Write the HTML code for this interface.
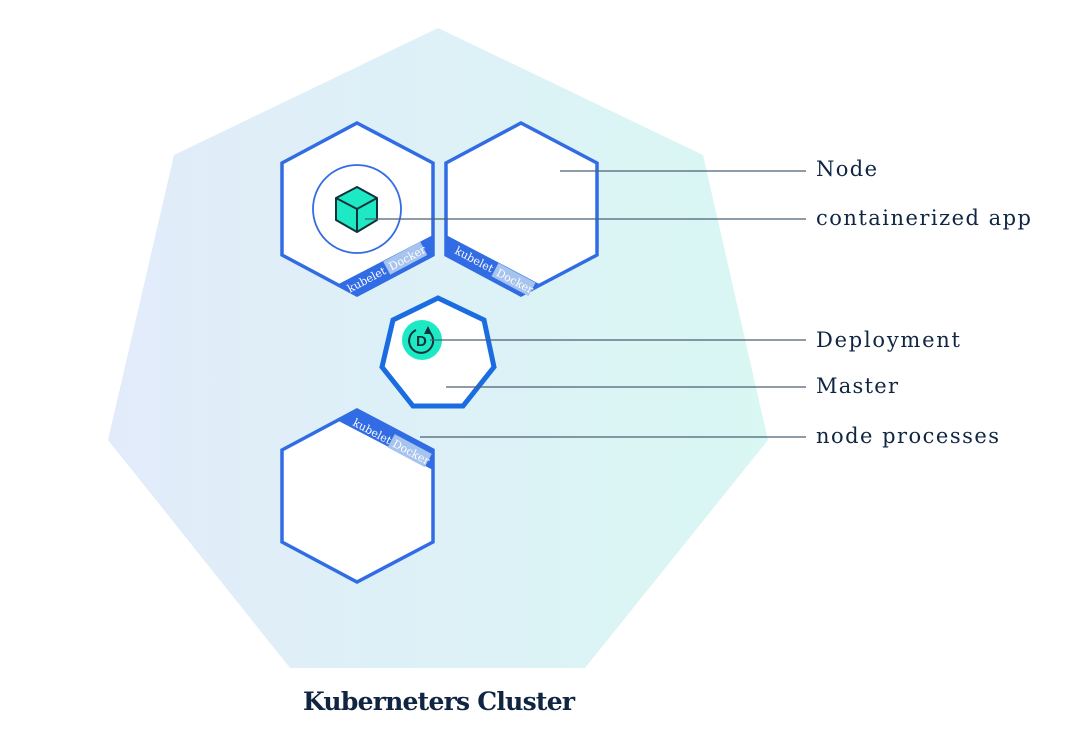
<!DOCTYPE html>
<html><head><meta charset="utf-8"><style>
html,body{margin:0;padding:0;background:#fff;}
svg{display:block;}
text{font-family:"DejaVu Serif","Liberation Serif",serif;fill:#0f2541;}
</style></head><body>
<svg width="1080" height="740" viewBox="0 0 1080 740" xmlns="http://www.w3.org/2000/svg">
<defs>
<linearGradient id="bg" x1="0" x2="1" y1="0" y2="0">
<stop offset="0" stop-color="#e2ebfa"/><stop offset="1" stop-color="#d9f7f3"/>
</linearGradient>
<clipPath id="h1"><polygon points="357,123 433,163 433,255 357,295 282,255 282,163"/></clipPath>
<clipPath id="h2"><polygon points="521,123 597,163 597,255 521,295 446,255 446,163"/></clipPath>
<clipPath id="h3"><polygon points="357,410 433,450 433,542 357,582 282,542 282,450"/></clipPath>
</defs>
<polygon points="438,28 703,155 768,440 585,668 290,668 108,440 174,155" fill="url(#bg)"/>

<!-- hex 1 -->
<polygon points="357,123 433,163 433,255 357,295 282,255 282,163" fill="#fff"/>
<line x1="445" y1="249" x2="345" y2="301" stroke="#326ce5" stroke-width="36" clip-path="url(#h1)"/>
<polygon points="357,123 433,163 433,255 357,295 282,255 282,163" fill="none" stroke="#326ce5" stroke-width="3.5"/>
<g transform="translate(357,289) rotate(-28)">
<text x="-8" y="0" font-size="11" style="fill:#fff">kubelet</text>
<rect x="36" y="-12" width="42" height="15" fill="#a6c4ee"/>
<text x="39" y="0" font-size="11" style="fill:#fff">Docker</text>
</g>
<circle cx="357" cy="209" r="44" fill="none" stroke="#326ce5" stroke-width="1.8"/>
<polygon points="357,187 377,198 377,220 357,232 336,220 336,198" fill="#1de9c4" stroke="#10323a" stroke-width="2" stroke-linejoin="round"/>
<polyline points="336,198 357,209 377,198" fill="none" stroke="#10323a" stroke-width="2"/>
<line x1="357" y1="209" x2="357" y2="232" stroke="#10323a" stroke-width="2"/>

<!-- hex 2 -->
<polygon points="521,123 597,163 597,255 521,295 446,255 446,163" fill="#fff"/>
<line x1="434" y1="249" x2="533" y2="301" stroke="#326ce5" stroke-width="36" clip-path="url(#h2)"/>
<polygon points="521,123 597,163 597,255 521,295 446,255 446,163" fill="none" stroke="#326ce5" stroke-width="3.5"/>
<g transform="translate(454,253) rotate(28)">
<text x="0" y="0" font-size="11" style="fill:#fff">kubelet</text>
<rect x="44" y="-12" width="42" height="15" fill="#a6c4ee"/>
<text x="47" y="0" font-size="11" style="fill:#fff">Docker</text>
</g>

<!-- hex 3 -->
<polygon points="357,410 433,450 433,542 357,582 282,542 282,450" fill="#fff"/>
<line x1="345" y1="404" x2="445" y2="456" stroke="#326ce5" stroke-width="36" clip-path="url(#h3)"/>
<polygon points="357,410 433,450 433,542 357,582 282,542 282,450" fill="none" stroke="#326ce5" stroke-width="3.5"/>
<g transform="translate(352,425) rotate(28)">
<text x="0" y="0" font-size="11" style="fill:#fff">kubelet</text>
<rect x="42" y="-12" width="42" height="15" fill="#a6c4ee"/>
<text x="45" y="0" font-size="11" style="fill:#fff">Docker</text>
</g>

<!-- master -->
<polygon points="438,298 484,320 494,367 463,406 413,406 382,367 393,320" fill="#fff" stroke="#1a6de0" stroke-width="5" stroke-linejoin="miter"/>
<circle cx="422" cy="340" r="20" fill="#1de9c4"/>
<path d="M428,331 A12,12 0 1 1 416,330" fill="none" stroke="#10323a" stroke-width="2"/>
<polygon points="428,326 432,334 424,334" fill="#10323a"/>
<text x="416" y="346" font-size="15" font-weight="bold" style="fill:#10323a;font-family:'Liberation Sans',sans-serif">D</text>

<!-- connector lines -->
<g stroke="#4a5f73" stroke-width="1.2">
<line x1="560" y1="171" x2="806" y2="171"/>
<line x1="365" y1="219" x2="806" y2="219"/>
<line x1="430" y1="340" x2="806" y2="340"/>
<line x1="446" y1="387" x2="806" y2="387"/>
<line x1="420" y1="437" x2="806" y2="437"/>
</g>
<text x="816" y="176" font-size="21" textLength="61">Node</text>
<text x="816" y="225" font-size="21" textLength="215">containerized app</text>
<text x="816" y="347" font-size="21" textLength="144">Deployment</text>
<text x="816" y="393" font-size="21" textLength="82">Master</text>
<text x="816" y="443" font-size="21" textLength="183">node processes</text>
<text x="303" y="710" font-size="25" font-weight="bold" textLength="272">Kuberneters Cluster</text>
</svg>
</body></html>
